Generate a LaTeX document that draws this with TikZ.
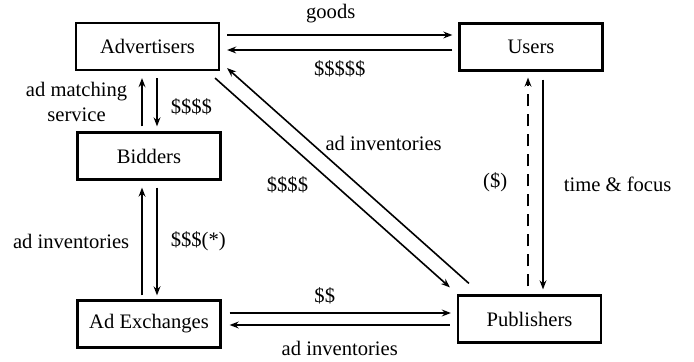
\documentclass[tikz,border=0pt]{standalone}
\usepackage{fontspec}
\setmainfont{Liberation Serif}
\usetikzlibrary{arrows.meta}
\tikzset{
  party/.style={draw,line width=1.1pt,minimum width=71.5pt,minimum height=23.5pt,inner sep=0pt},
  flow/.style={line width=0.8pt,-{Stealth[length=4.5pt,width=3.4pt]}},
  lbl/.style={inner sep=1pt}
}
\begin{document}
\begin{tikzpicture}[x=0.5pt,y=-0.5pt,font=\fontsize{10.3}{12.5}\selectfont]
 \useasboundingbox (0,0) rectangle (694,362);
 \node[party] (adv) at (147.5,46.5) {Advertisers};
 \node[party] (usr) at (531,47) {Users};
 \node[party] (bid) at (149,156) {Bidders};
 \node[party] (adx) at (149,324) {Ad Exchanges};
 \node[party] (pub) at (529.5,319) {Publishers};
 \draw[flow] ([shift={(7,-11.5)}]adv.east) -- node[lbl,pos=.46,above=4.5pt] (goods) {goods} ([shift={(-6,-12)}]usr.west);
 \draw[flow] ([shift={(-6,3)}]usr.west) -- node[lbl,midway,below=4pt] (pay5) {\$\$\$\$\$} ([shift={(7,3.5)}]adv.east);
 \draw[flow] ([shift={(-7,-5)}]bid.north) -- node[lbl,midway,left=6pt,align=center] (match) {ad matching\\service} ([shift={(-5.5,7)}]adv.south);
 \draw[flow] ([shift={(9.5,7)}]adv.south) -- node[lbl,pos=.6,right=5.5pt] (pay4) {\$\$\$\$} ([shift={(8,-5)}]bid.north);
 \draw[flow] ([shift={(-7,-4)}]adx.north) -- node[lbl,midway,left=5pt] (inv1) {ad inventories} ([shift={(-7,7)}]bid.south);
 \draw[flow] ([shift={(8,7)}]bid.south) -- node[lbl,midway,right=5.5pt] (pay3) {\$\$\$(*)} ([shift={(8,-4)}]adx.north);
 \draw[flow] ([shift={(8,-11)}]adx.east) -- node[lbl,pos=.43,above=3pt] (pay2) {\$\$} ([shift={(-6,-6)}]pub.west);
 \draw[flow] ([shift={(-7,6)}]pub.west) -- node[lbl,midway,below=6.5pt] (inv2) {ad inventories} ([shift={(8,1)}]adx.east);
 \draw[flow,dashed,dash pattern=on 6pt off 4pt] ([shift={(-1.5,-8)}]pub.north) -- node[lbl,midway,left=9pt] (pay1) {(\$)} ([shift={(-3,6)}]usr.south);
 \draw[flow] ([shift={(12,8)}]usr.south) -- node[lbl,midway,right=9pt] (time) {time \& focus} ([shift={(13.5,-5)}]pub.north);
 \draw[flow] ([shift={(12,-11)}]pub.north west) -- node[lbl,pos=.65,right=5.5pt] (inv3) {ad inventories} ([shift={(7,-3)}]adv.south east);
 \draw[flow] ([shift={(-5,7)}]adv.south east) -- node[lbl,pos=.51,left=12pt] (pay4b) {\$\$\$\$} ([shift={(-7,-7)}]pub.north west);
\end{tikzpicture}
\end{document}
